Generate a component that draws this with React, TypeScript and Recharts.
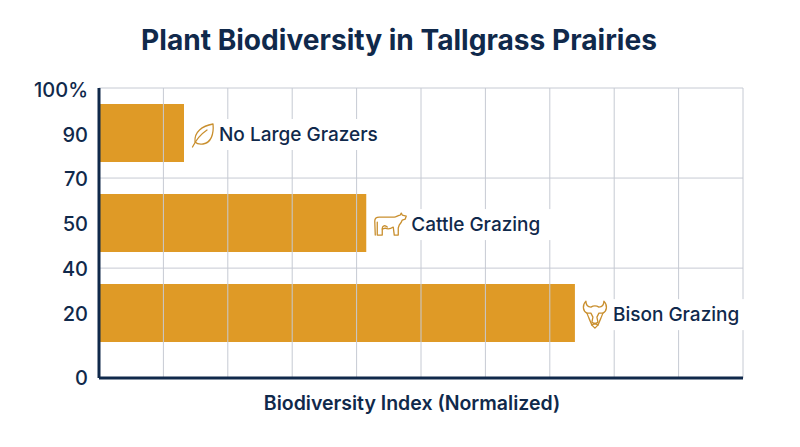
import React from "react";
import { BarChart, Bar, XAxis, YAxis, ReferenceLine, LabelList } from "recharts";

const categories = ["No Large Grazers", "Cattle Grazing", "Bison Grazing"];
const biodiversity = [13.2, 41.5, 73.9];
const rowSlots = [0.5, 1.5, 2.5];
const tickSlots = [0.02, 0.52, 1.01, 1.51, 2.01, 2.51, 3.22];
const tickLabels = ["100%", "90", "70", "50", "40", "20", "0"];
const xGridValues = [10, 20, 30, 40, 50, 60, 70, 80, 90, 100];
const yGridSlots = [0, 1, 2];

const data = categories.map((name, i) => ({ name, value: biodiversity[i], slot: rowSlots[i] }));

const NAVY = "#10294B";
const GOLD = "#DF9A26";
const ICON = "#C98F2E";
const GRID = "#C6CAD3";
const FONT = "Inter, sans-serif";

const iconOf: Record<string, { textGap: number; paths: string[] }> = {
  "No Large Grazers": {
    textGap: 35,
    paths: [
      "M3 8 C2 -2 10 -8 21 -10 C22 0 19 9 11 10 C8 10.5 5 10 3 8 Z",
      "M0.5 13 C4 6 9 0 15 -4",
    ],
  },
  "Cattle Grazing": {
    textGap: 45,
    paths: [
      "M1 11 L0.5 -3 C0.5 -6 2 -7 5 -7 L20 -7 C22 -7 24 -9 26 -9 L27 -11 L28 -9 L32 -8 L31 -5 L28 -4 C27 -1 26 0 25 1 L24 4 L24 11 L20 11 L19 3 C16 5 13 5 11 4 L8 5 L8 11 L3 11 L3 -2",
      "M8 5 C8 1 11 1 13 3",
    ],
  },
  "Bison Grazing": {
    textGap: 38,
    paths: [
      "M3 -13 C-1 -9 0 -3 4 -1 L6 4 L9 11 L12 14 L15 11 L18 4 L20 -1 C24 -3 25 -9 21 -13 C21 -9 19 -7 16 -7 C13 -9 11 -9 8 -7 C5 -7 3 -9 3 -13 Z",
      "M4 -1 L8 -1 L10 3 L9 8 L12 10 L15 8 L14 3 L16 -1 L20 -1",
      "M9 11 L12 9 L15 11",
    ],
  },
};

const BarTag = (props: any) => {
  const { x, y, width, height, value } = props;
  const icon = iconOf[value];
  const left = x + width + 9;
  const cy = y + height / 2;
  return (
    <g>
      <rect x={x + width + 3} y={cy - 14} width={icon.textGap + value.length * 10} height={31} fill="#fff" />
      <g transform={`translate(${left - 1},${cy + 1})`} fill="none" stroke={ICON} strokeWidth={1.3} strokeLinejoin="round" strokeLinecap="round">
        {icon.paths.map((d, i) => (
          <path key={i} d={d} />
        ))}
      </g>
      <text x={x + width + icon.textGap} y={cy + 2.5} dominantBaseline="middle" fontFamily={FONT} fontSize={19} fontWeight={500} fill={NAVY}>
        {value}
      </text>
    </g>
  );
};

export default function App() {
  return (
    <div style={{ position: "absolute", left: 0, top: 0, width: 800, height: 447, background: "#fff", overflow: "hidden" }}>
      <div style={{ position: "absolute", left: 0, width: 798, top: 21, textAlign: "center", fontFamily: FONT, fontSize: 28.1, fontWeight: 700, color: NAVY, lineHeight: "38px", whiteSpace: "nowrap" }}>
        Plant Biodiversity in Tallgrass Prairies
      </div>
      <BarChart
        width={800}
        height={447}
        data={data}
        layout="vertical"
        margin={{ top: 88, right: 57, bottom: 0, left: 0 }}
        barCategoryGap={0}
      >
        <XAxis
          type="number"
          domain={[0, 100]}
          ticks={xGridValues}
          height={69}
          tick={false}
          tickLine={false}
          axisLine={{ stroke: NAVY, strokeWidth: 3 }}
          label={{ value: "Biodiversity Index (Normalized)", position: "insideBottom", offset: 37, dx: -9, fill: NAVY, fontFamily: FONT, fontSize: 19.5, fontWeight: 600 }}
        />
        <YAxis
          type="number"
          dataKey="slot"
          domain={[0, 3.22]}
          allowDataOverflow
          ticks={tickSlots}
          interval={0}
          width={99}
          tickLine={false}
          tickMargin={5}
          tickFormatter={(v: number) => tickLabels[tickSlots.indexOf(v)]}
          tick={{ fill: NAVY, fontFamily: FONT, fontSize: 20, fontWeight: 500 }}
          axisLine={{ stroke: NAVY, strokeWidth: 3 }}
        />
        {xGridValues.map((v) => (
          <ReferenceLine key={v} x={v} stroke={GRID} strokeWidth={1} />
        ))}
        {yGridSlots.map((v) => (
          <ReferenceLine key={v} y={v} stroke={GRID} strokeWidth={1} />
        ))}
        <Bar dataKey="value" fill={GOLD} barSize={58} isAnimationActive={false}>
          <LabelList dataKey="name" content={BarTag} />
        </Bar>
      </BarChart>
    </div>
  );
}
